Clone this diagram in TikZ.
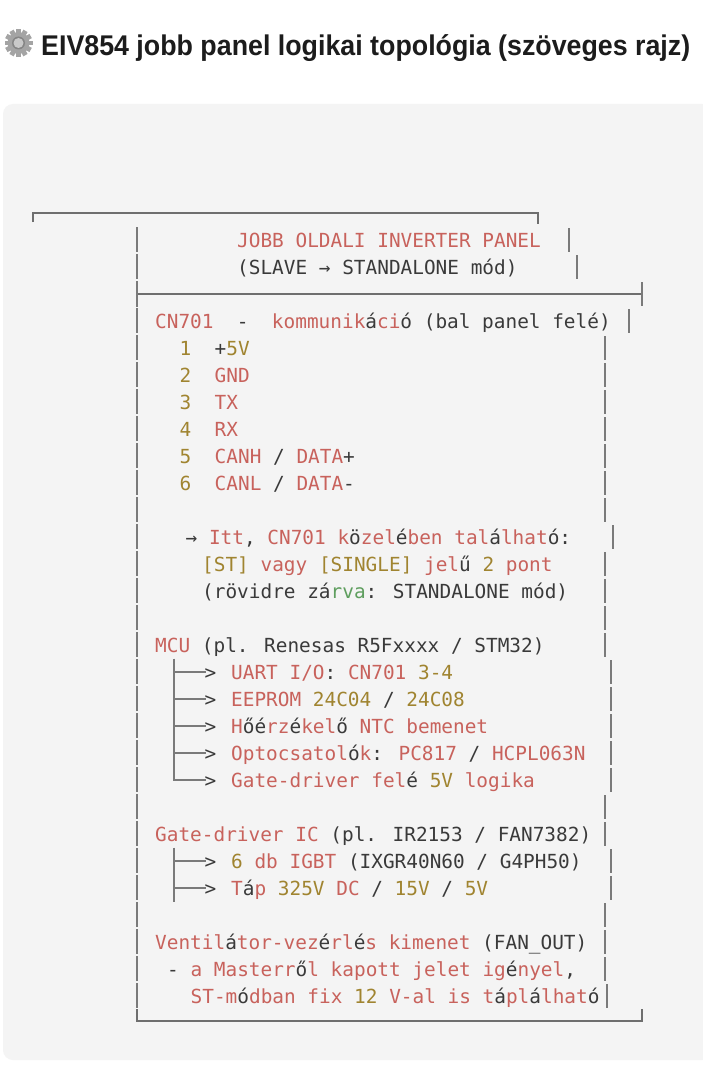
\documentclass[tikz,border=0pt]{standalone}
\usepackage{fontspec}
\usepackage{graphicx}
\setmainfont{Liberation Sans}
\newfontfamily\codefont{DejaVu Sans Mono}
\definecolor{cred}{HTML}{C8625C}
\definecolor{cold}{HTML}{A08430}
\definecolor{cdark}{HTML}{3A3A3A}
\definecolor{cgrn}{HTML}{5E9E5E}
\definecolor{cbar}{HTML}{7A7A7A}
\definecolor{codebg}{HTML}{F4F4F4}
\definecolor{ctitle}{HTML}{1C1C1C}
\definecolor{gearc}{HTML}{A4A4A4}
\definecolor{geard}{HTML}{858585}
\definecolor{gearh}{HTML}{C9C9C9}
\newcommand\tR[1]{\textcolor{cred}{#1}}
\newcommand\tO[1]{\textcolor{cold}{#1}}
\newcommand\tG[1]{\textcolor{cgrn}{#1}}
\tikzset{
  codeline/.style={anchor=base west, inner sep=0pt, text=cdark, font=\codefont\fontsize{19.4}{22}\selectfont},
  bar/.style={draw=cbar, line width=1.3pt},
  rule/.style={draw=cbar!90!black, line width=1.2pt},
}
\begin{document}
\begin{tikzpicture}[x=1pt,y=-1pt]
\useasboundingbox (0,0) rectangle (702,1070);
\fill[white] (0,0) rectangle (702,1070);
\fill[codebg, rounded corners=10pt] (3,104) rectangle (730,1060);

% gear icon
\begin{scope}[shift={(18.5,43)}]
  \foreach \a in {0,30,...,330}
    \fill[gearc, rotate=\a] (-2.4,-14) rectangle (2.4,-9);
  \fill[gearc] (0,0) circle[radius=11pt];
  \fill[geard] (0,0) circle[radius=6.5pt];
  \fill[gearh] (0,0) circle[radius=5pt];
\end{scope}
\coordinate (gear) at (18.5,43);

% title
\node[anchor=base west, inner sep=0pt, text=ctitle, font=\fontsize{28.5}{30}\selectfont\bfseries] (title) at (41,56)
  {\resizebox{649pt}{\height}{EIV854 jobb panel logikai topológia (szöveges rajz)}};

% borders
\draw[rule] (33,222) -- (33,213) -- (538,213) -- (538,224);
\draw[rule] (137,294) -- (642,294);
\draw[bar] (137,281) -- (137,307);
\draw[bar] (642,282) -- (642,306);
\draw[rule] (137,1009) -- (137,1021) -- (642,1021) -- (642,1009);

% left bars
\foreach \i in {0,1,3,4,5,6,7,8,9,10,11,12,13,14,15,16,17,18,19,20,21,22,23,24,25,26,27,28}
  \draw[bar] (137,{240+27*\i-13}) -- (137,{240+27*\i+12});

% right bars
\foreach \i/\x in {0/569,1/577,3/629,4/605,5/605,6/605,7/605,8/605,9/605,10/605,11/613,12/605,13/605,14/605,15/605,16/611,17/611,18/611,19/611,20/611,21/605,22/605,23/611,24/611,25/605,26/605,27/605,28/607}
  \draw[bar] (\x,{240+27*\i-12}) -- (\x,{240+27*\i+12});

% tree branches
\foreach \i in {16,17,18,19,23,24}{
  \draw[bar] (174,{240+27*\i-13.5}) -- (174,{240+27*\i+13.5});
  \draw[bar] (174,{240+27*\i}) -- (206,{240+27*\i});
  \node[codeline] (gt\i) at (204.5,{240+27*\i+7.5}) {>};
}
\draw[bar] (174,{240+27*20-13.5}) -- (174,{240+27*20}) -- (206,{240+27*20});
\node[codeline] (gt20) at (204.5,{240+27*20+7.5}) {>};

% text lines
\node[codeline] (l0) at (237,247.5) {\tR{JOBB OLDALI INVERTER PANEL}};
\node[codeline] (l1) at (237,274.5) {(SLAVE → STANDALONE mód)};
\node[codeline] (l3) at (155,328.5) {\tR{CN701}~~-~~\tR{kommunik}á\tR{ci}ó (bal panel felé)};
\node[codeline] (l4) at (179.5,355.5) {\tO{1}~~+\tO{5V}};
\node[codeline] (l5) at (179.5,382.5) {\tO{2}~~\tR{GND}};
\node[codeline] (l6) at (179.5,409.5) {\tO{3}~~\tR{TX}};
\node[codeline] (l7) at (179.5,436.5) {\tO{4}~~\tR{RX}};
\node[codeline] (l8) at (179.5,463.5) {\tO{5}~~\tR{CANH} / \tR{DATA}+};
\node[codeline] (l9) at (179.5,490.5) {\tO{6}~~\tR{CANL} / \tR{DATA}-};
\node[codeline] (l11) at (185.5,544.5) {→ \tR{Itt}, \tR{CN701} \tR{k}ö\tR{zel}é\tR{ben} \tR{tal}á\tR{lhat}ó:};
\node[codeline] (l12) at (202,571.5) {\tO{[ST]} \tR{vagy} \tO{[SINGLE]} \tR{jel}ű \tO{2} \tR{pont}};
\node[codeline] (l13) at (202,598.5) {(rövidre zá\tG{rva}: STANDALONE mód)};
\node[codeline] (l15) at (155,652.5) {\tR{MCU} (pl. Renesas R5Fxxxx / STM32)};
\node[codeline] (l16) at (231,679.5) {\tR{UART I/O}: \tR{CN701} \tO{3-4}};
\node[codeline] (l17) at (231,706.5) {\tR{EEPROM} \tO{24C04} / \tO{24C08}};
\node[codeline] (l18) at (231,733.5) {\tR{H}őé\tR{rz}é\tR{kel}ő \tR{NTC bemenet}};
\node[codeline] (l19) at (231,760.5) {\tR{Optocsatol}ó\tR{k}: \tR{PC817} / \tR{HCPL063N}};
\node[codeline] (l20) at (231,787.5) {\tR{Gate-driver fel}é \tO{5V} \tR{logika}};
\node[codeline] (l22) at (155,841.5) {\tR{Gate-driver IC} (pl. IR2153 / FAN7382)};
\node[codeline] (l23) at (231,868.5) {\tO{6} \tR{db IGBT} (IXGR40N60 / G4PH50)};
\node[codeline] (l24) at (231,895.5) {\tR{T}á\tR{p} \tO{325V} \tR{DC} / \tO{15V} / \tO{5V}};
\node[codeline] (l26) at (155,949.5) {\tR{Ventil}á\tR{tor-vez}é\tR{rl}é\tR{s kimenet} (FAN\_OUT)};
\node[codeline] (l27) at (167,976.5) {- \tR{a Masterr}ő\tR{l kapott jelet ig}é\tR{nyel},};
\node[codeline] (l28) at (190.5,1003.5) {\tR{ST-m}ó\tR{dban fix} \tO{12} \tR{V-al is t}á\tR{pl}á\tR{lhat}ó};
\end{tikzpicture}
\end{document}
